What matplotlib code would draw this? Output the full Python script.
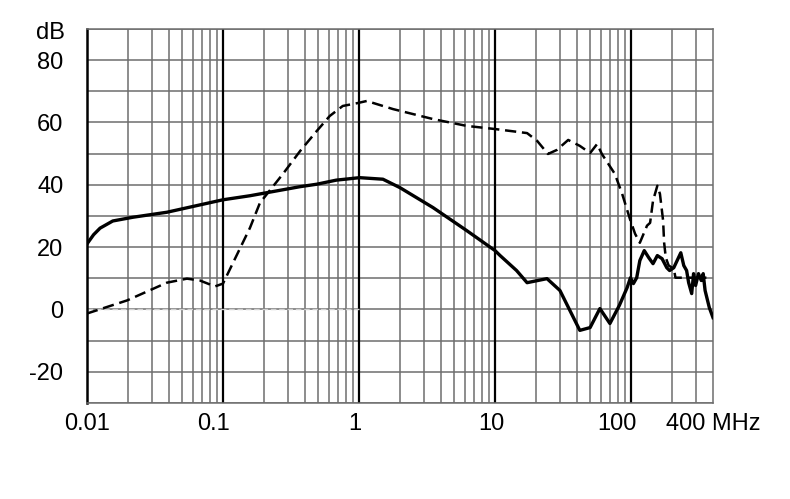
import numpy as np
import matplotlib.pyplot as plt
from matplotlib.transforms import ScaledTranslation

plt.rcParams['font.family'] = ['Liberation Sans', 'DejaVu Sans']

# solid curve (frequency in MHz, level in dB)
solid_f = [0.01, 0.0112, 0.0125, 0.0155, 0.0218, 0.0387, 0.1, 0.158, 0.368, 0.49, 0.68,
           1.01, 1.5, 2.0, 3.5, 6.2, 10.0, 10.9, 14.4, 17.2, 24.1,
           30.0, 42.0, 50.0, 59.0, 69.9, 82.0, 93.5, 99.0, 104.0, 110.0,
           116.0, 125.0, 135.0, 145.0, 156.0, 169.0, 183.0, 192.0, 206.0, 232.0,
           244.0, 256.0, 265.0, 279.0, 288.0, 298.0, 313.0, 328.0, 339.0, 350.0,
           376.0, 400.0]
solid_db = [21.0, 24.0, 26.1, 28.4, 29.6, 31.2, 35.2, 36.5, 39.4, 40.2, 41.5,
            42.3, 41.8, 39.1, 32.7, 25.3, 18.9, 17.3, 12.5, 8.6, 9.9,
            6.1, -6.7, -5.8, 0.3, -4.5, 1.3, 7.0, 10.2, 8.3, 10.2,
            15.7, 18.9, 16.6, 14.7, 17.3, 16.3, 13.4, 12.5, 13.4, 18.2,
            14.1, 12.5, 8.6, 5.1, 11.5, 7.7, 11.5, 9.3, 11.5, 6.1,
            0.6, -2.6]

# dashed curve
dashed_f = [0.01, 0.0197, 0.0387, 0.0544, 0.0677, 0.0873, 0.1, 0.158, 0.187, 0.276,
            0.37, 0.49, 0.61, 0.76, 0.97, 1.14, 1.78, 3.5, 6.2, 10.0,
            17.2, 20.4, 24.5, 28.5, 34.5, 42.0, 50.0, 56.3, 61.0, 76.0,
            86.0, 98.0, 107.0, 116.0, 131.0, 138.0, 145.0, 156.0, 163.0, 172.0,
            175.0, 180.0, 189.0, 206.0, 212.0, 358.0]
dashed_db = [-1.3, 2.9, 8.6, 9.9, 9.3, 7.4, 8.3, 26.2, 34.2, 43.5,
             50.9, 57.3, 62.1, 65.3, 66.2, 66.9, 64.3, 61.1, 58.9, 57.9,
             56.6, 54.1, 49.9, 51.2, 54.4, 52.5, 50.2, 53.1, 49.9, 43.5,
             37.1, 29.1, 24.3, 21.4, 26.9, 27.8, 34.9, 39.7, 37.1, 28.5,
             21.4, 16.6, 14.1, 13.1, 10.2, 10.2]

# reference line at 0 dB
ref_f = [0.01, 1.0]
ref_db = [0, 0]

x_ticks = [0.01, 0.1, 1, 10, 100, 400]
x_labels = ['0.01', '0.1', '1', '10', '100', '400 MHz']
y_ticks = [-20, 0, 20, 40, 60, 80]
y_labels = ['-20', '0', '20', '40', '60', '80']

fig = plt.figure(figsize=(7.9, 4.99), dpi=100)
ax = fig.add_axes([0.110, 0.1924, 0.7925, 0.7495])
ax.set_xscale('log')
ax.set_xlim(0.01, 400)
ax.set_ylim(-30, 90)

grid_c = '#6e6e6e'
# horizontal grid every 10 dB
for y in range(-30, 91, 10):
    ax.axhline(y, color=grid_c, lw=1.1, zorder=1)
# vertical log grid
for dec in [0.01, 0.1, 1, 10, 100]:
    for m in range(2, 10):
        f = dec * m
        if f < 400:
            ax.axvline(f, color=grid_c, lw=1.1, zorder=1)
for f in [0.1, 1, 10, 100]:
    ax.axvline(f, color='black', lw=1.6, zorder=2)

ax.plot(ref_f, ref_db, color='#d0d0d0', lw=1.0, dashes=(4, 2), zorder=2)
ax.plot(dashed_f, dashed_db, color='black', lw=1.8, dashes=(4.5, 2.3), zorder=3)
ax.plot(solid_f, solid_db, color='black', lw=2.4, zorder=4,
        solid_joinstyle='round')

for side in ['top', 'right', 'bottom']:
    ax.spines[side].set_color(grid_c)
    ax.spines[side].set_linewidth(1.1)
ax.spines['left'].set_linewidth(1.8)

ax.set_xticks(x_ticks)
ax.set_xticklabels(x_labels)
ax.set_xticks([], minor=True)
ax.set_yticks(y_ticks)
ax.set_yticklabels(y_labels)
ax.tick_params(axis='both', length=0, labelsize=17)
ax.tick_params(axis='x', pad=7)
ax.tick_params(axis='y', pad=17)

# nudge some x labels left, as in the original
shifts = [0, -9, -4, -4, -14, 0]
for lab, dx in zip(ax.get_xticklabels(), shifts):
    lab.set_transform(lab.get_transform() + ScaledTranslation(dx / 100, 0, fig.dpi_scale_trans))

fig.text(0.082, 0.934, 'dB', fontsize=17, ha='right', va='center')

fig.savefig('out.png', dpi=100)
